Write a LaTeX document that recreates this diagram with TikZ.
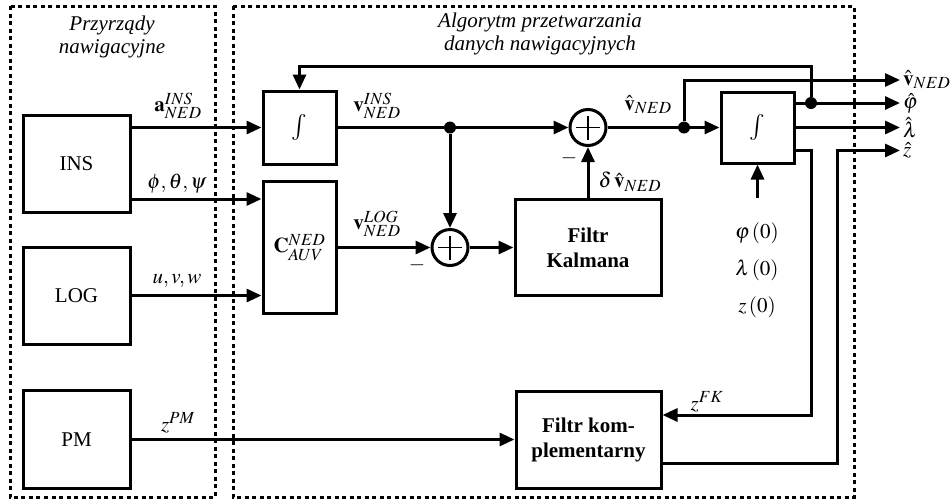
\documentclass[tikz,border=0pt]{standalone}
\usepackage{mathptmx}
\usepackage{fontspec}
\setmainfont{Liberation Serif}
\usetikzlibrary{arrows.meta}
\DeclareMathSizes{21}{21}{17}{14}
\tikzset{
  every node/.style={font=\fontsize{21}{25}\selectfont},
  blk/.style={draw, line width=3pt, inner sep=0pt, align=center},
  ln/.style={line width=3pt},
  arr/.style={line width=3pt, -{Triangle[length=15pt,width=13pt]}},
  dotbox/.style={line width=3pt, dash pattern=on 4pt off 3.5pt},
  sumn/.style={circle, draw, line width=3pt, minimum size=36pt, inner sep=0pt},
  lbl/.style={inner sep=0pt},
  dotn/.style={circle, fill, inner sep=0pt, minimum size=12pt},
  intn/.style={font=\fontsize{26}{30}\selectfont},
}
\begin{document}
\begin{tikzpicture}[x=1pt,y=-1pt]
\useasboundingbox (0,0) rectangle (951,499);
% dotted frames
\draw[dotbox] (10,6) rectangle (215,497);
\draw[dotbox] (233,6) rectangle (854,497);
\node[lbl, align=center, font=\fontsize{21}{23}\selectfont\itshape] (t1) at (112,37) {Przyrządy\\nawigacyjne};
\node[lbl, align=center, font=\fontsize{21}{23}\selectfont\itshape] (t2) at (540,34) {Algorytm przetwarzania\\danych nawigacyjnych};
% blocks
\node[blk, minimum width=107pt, minimum height=97pt] (ins) at (76.5,163.5) {INS};
\node[blk, minimum width=107pt, minimum height=97pt] (log) at (76.5,295.5) {LOG};
\node[blk, minimum width=107pt, minimum height=98pt] (pm) at (76.5,439.5) {PM};
\node[blk, intn, minimum width=73pt, minimum height=73pt] (int1) at (299.5,127.5) {$\int$};
\node[blk, minimum width=73pt, minimum height=132pt] (C) at (299.5,247.5) {$\mathbf{C}_{AUV}^{NED}$};
\node[sumn] (sum1) at (450,247.5) {};
\node[sumn] (sum2) at (588,127.5) {};
\draw[line width=1.3pt] (sum1) ++(-12,0) -- ++(24,0) (sum1) ++(0,-12) -- ++(0,24);
\draw[line width=1.3pt] (sum2) ++(-12,0) -- ++(24,0) (sum2) ++(0,-12) -- ++(0,24);
\node[blk, minimum width=146pt, minimum height=96pt, font=\fontsize{21}{25}\selectfont\bfseries] (kal) at (588,247.5) {Filtr\\Kalmana};
\node[blk, intn, minimum width=73pt, minimum height=71pt] (int2) at (757.5,127.5) {$\int$};
\node[blk, minimum width=145pt, minimum height=97pt, font=\fontsize{21}{25}\selectfont\bfseries] (fk) at (588.5,439.5) {Filtr kom-\\plementarny};
% junction dots and coordinates
\node[dotn] (d1) at (450,127.5) {};
\node[dotn] (d2) at (684,127.5) {};
\node[dotn] (d3) at (811,103) {};
\coordinate (o1) at (900,80);
\coordinate (o2) at (900,103);
\coordinate (o3) at (900,127.5);
\coordinate (o4) at (900,150.5);
\coordinate (fb) at (811,66);
\coordinate (zc) at (811,415);
\coordinate (fo) at (837,150.5);
\coordinate (ic) at (757.5,198);
% connectors
\draw[arr] (ins.east |- int1) -- (int1.west);
\draw[arr] (ins.east |- 0,199) -- (C.west |- 0,199);
\draw[arr] (log.east) -- (C.west |- log.east);
\draw[arr] (pm.east) -- (fk.west |- pm.east);
\draw[ln] (int1.east) -- (d1);
\draw[arr] (d1) -- (sum2.west);
\draw[arr] (d1) -- (sum1.north);
\draw[arr] (C.east) -- (sum1.west);
\draw[arr] (sum1.east) -- (kal.west);
\draw[arr] (kal.north) -- (sum2.south);
\draw[ln] (sum2.east) -- (d2);
\draw[arr] (d2) -- (int2.west);
\draw[arr] (d2) |- (o1);
\draw[arr] (int2.east |- d3) -- (o2);
\draw[arr] (d3) -- (fb) -| (int1.north);
\draw[arr] (int2.east) -- (o3);
\draw[arr] (int2.east |- 0,150) -| (zc) -- (zc -| fk.east);
\draw[arr] (fk.east |- 0,463) -| (fo) -- (o4);
\draw[arr] (ic) -- (int2.south);
% labels
\node[lbl] (la) at (178,106) {$\mathbf{a}_{NED}^{INS}$};
\node[lbl] (lp) at (177,184) {$\phi,\theta,\psi$};
\node[lbl] (lu) at (177,281) {$u,v,w$};
\node[lbl] (lz) at (178,423) {$z^{PM}$};
\node[lbl] (lv) at (377,106) {$\mathbf{v}_{NED}^{INS}$};
\node[lbl] (lg) at (377,224) {$\mathbf{v}_{NED}^{LOG}$};
\node[lbl] (m1) at (417,265) {$-$};
\node[lbl] (lh) at (648,105) {$\hat{\mathbf{v}}_{NED}$};
\node[lbl] (ld) at (630,182) {$\delta\,\hat{\mathbf{v}}_{NED}$};
\node[lbl] (m2) at (569,158) {$-$};
\node[lbl] (i1) at (757,233) {$\varphi\,(0)$};
\node[lbl] (i2) at (757,270) {$\lambda\,(0)$};
\node[lbl] (i3) at (757,307) {$z\,(0)$};
\node[lbl] (lf) at (707,402) {$z^{FK}$};
\node[lbl, anchor=west] (r1) at (903,80) {$\hat{\mathbf{v}}_{NED}$};
\node[lbl, anchor=west] (r2) at (903,103) {$\hat{\varphi}$};
\node[lbl, anchor=west] (r3) at (903,127.5) {$\hat{\lambda}$};
\node[lbl, anchor=west] (r4) at (903,150.5) {$\hat{z}$};
\end{tikzpicture}
\end{document}
